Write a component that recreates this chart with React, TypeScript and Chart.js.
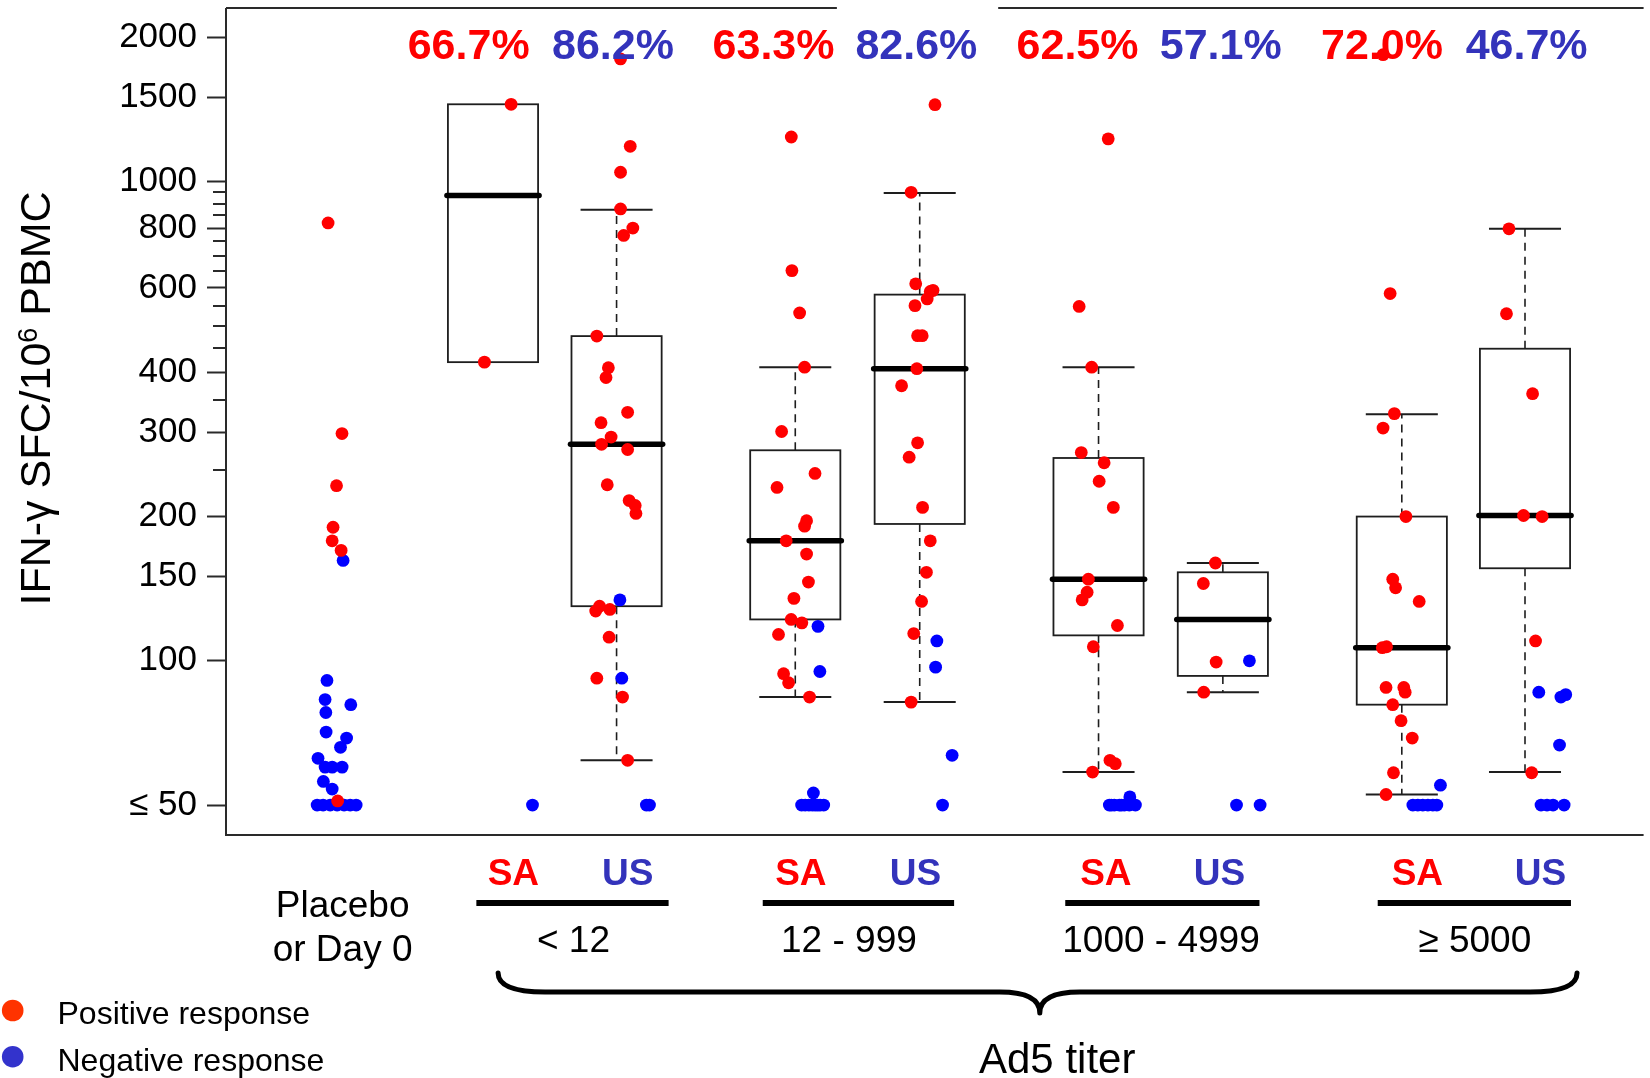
import React, { useEffect, useRef } from "react";
import { Chart, registerables } from "chart.js";

Chart.register(...registerables);

const FONT = '"Liberation Sans", Arial, Helvetica, sans-serif';

// ---------------- data ----------------
const groups = [
  "Placebo or Day 0",
  "SA < 12", "US < 12",
  "SA 12 - 999", "US 12 - 999",
  "SA 1000 - 4999", "US 1000 - 4999",
  "SA ≥ 5000", "US ≥ 5000",
];
const placeboLabelLines = ["Placebo", "or Day 0"];
const cohortLabels = ["SA", "US"];
const titerLabels = ["< 12", "12 - 999", "1000 - 4999", "≥ 5000"];
const titerTitle = "Ad5 titer";
const percentLabels = ["66.7%", "86.2%", "63.3%", "82.6%", "62.5%", "57.1%", "72.0%", "46.7%"];
const yMajorTicks = [50, 100, 150, 200, 300, 400, 600, 800, 1000, 1500, 2000];
const yMinorTicks = [250, 350, 450, 500, 550, 650, 700, 750, 850, 900, 950];

// positive (red) / negative (blue) responses per group
const placeboPos = [820, 298, 232, 190, 178, 170, 51];
const placeboNeg = [162, 91, 83, 81, 78, 71, 69, 66, 62.6, 60, 60, 60, 56, 54, 50, 50, 50, 50, 50, 50, 50];
const saLt12Pos = [1450, 420];
const saLt12Neg = [50];
const usLt12Pos = [1803, 1185, 1046, 877, 800, 772, 476, 409, 390, 330, 314, 293, 283, 276, 233, 216, 211, 203, 130, 128, 127, 112, 92, 84, 62];
const usLt12Neg = [134, 92, 50, 50];
const sa12Pos = [1239, 652, 532, 410, 301, 246, 230, 196, 191, 178, 167, 146, 135, 122, 120, 113.5, 94, 90, 84];
const sa12Neg = [118, 95, 53, 50, 50, 50, 50, 50, 50, 50, 50];
const us12Pos = [1447, 950, 612, 593, 590, 569, 551, 477, 477, 407, 375, 285, 266, 209, 178, 153, 133, 114, 82];
const us12Neg = [110, 97, 63.5, 50];
const sa1000Pos = [1228, 549, 410, 272, 259, 237, 209, 148, 139, 134, 118.5, 107, 62, 61, 58.6];
const sa1000Neg = [52, 50, 50, 50, 50, 50, 50, 50, 50];
const us1000Pos = [160, 145, 99.4, 86];
const us1000Neg = [100, 50, 50];
const sa5000Pos = [1840, 584, 328, 306, 200, 148, 142, 133, 107, 106.5, 88, 88, 86, 81, 75, 69, 58.4, 52.6];
const sa5000Neg = [55, 50, 50, 50, 50, 50, 50];
const us5000Pos = [797, 530, 361, 201, 200, 110, 58.4];
const us5000Neg = [86, 85, 84, 66.7, 50, 50, 50, 50];

// box statistics (groups 2..9, positive responders)
const boxLow = [420, 62, 84, 82, 58.6, 86, 52.6, 58.6];
const boxQ1 = [420, 130, 122, 193, 113, 93, 81, 156];
const boxMedian = [935, 283, 178, 407, 148, 122, 106.5, 201];
const boxQ3 = [1450, 476, 275, 581, 265, 153, 200, 448];
const boxHigh = [1450, 874, 410, 947, 410, 160, 327, 797];

// ---------------- layout (x-axis units) ----------------
const X_MIN = -0.895;
const X_MAX = 10.52;
const groupX = [0, 1.255, 2.25, 3.689, 4.691, 6.131, 7.132, 8.573, 9.565];
const percentX = [1.059, 2.221, 3.514, 4.664, 5.962, 7.115, 8.414, 9.578];
const saLabelX = [1.419, 3.734, 6.19, 8.698];
const usLabelX = [2.339, 4.656, 7.105, 9.69];
const underlineX = [[1.121, 2.669], [3.427, 4.968], [5.863, 7.427], [8.379, 9.935]];
const titerX = [1.903, 4.121, 6.634, 9.161];
const placeboLabelX = 0.044;
const braceX = [1.296, 5.658, 9.984];
const titerTitleX = 5.798;
const topGapX = [4.024, 5.323];
const BOX_HALF = 0.363;
const CAP_HALF = 0.29;

// horizontal jitter of the dots (x-axis units)
const placeboPosJit = [-0.073, 0.039, -0.005, -0.033, -0.04, 0.032, 0.004];
const placeboNegJit = [0.048, -0.082, -0.097, 0.11, -0.091, -0.089, 0.076, 0.027, -0.154, -0.097, -0.04, 0.04, -0.111, -0.04, -0.161, -0.113, -0.056, 0, 0.056, 0.105, 0.153];
const saLt12PosJit = [0.146, -0.069];
const saLt12NegJit = [0.318];
const usLt12PosJit = [0.032, 0.11, 0.032, 0.032, 0.131, 0.057, -0.159, -0.066, -0.085, 0.089, -0.125, -0.044, -0.121, 0.089, -0.075, 0.101, 0.15, 0.156, -0.137, -0.054, -0.168, -0.06, -0.159, 0.048, 0.089];
const usLt12NegJit = [0.027, 0.042, 0.265, 0.24];
const sa12PosJit = [-0.032, -0.027, 0.035, 0.075, -0.11, 0.159, -0.147, 0.091, 0.075, -0.073, 0.091, 0.106, -0.011, -0.033, 0.053, -0.135, -0.094, -0.054, 0.115];
const sa12NegJit = [0.183, 0.198, 0.146, 0.051, 0.137, 0.229, 0.08, 0.18, 0.11, 0.16, 0.2];
const us12PosJit = [0.123, -0.069, -0.032, 0.107, 0.085, 0.06, -0.038, -0.017, 0.02, -0.023, -0.146, -0.017, -0.085, 0.023, 0.085, 0.054, 0.015, -0.048, -0.069];
const us12NegJit = [0.138, 0.128, 0.261, 0.184];
const sa1000PosJit = [0.078, -0.156, -0.055, -0.139, 0.045, 0.005, 0.119, -0.082, -0.092, -0.132, 0.152, -0.042, 0.092, 0.135, -0.048];
const sa1000NegJit = [0.252, 0.087, 0.127, 0.168, 0.208, 0.248, 0.297, 0.103, 0.184];
const us1000PosJit = [-0.06, -0.157, -0.054, -0.154];
const us1000NegJit = [0.214, 0.11, 0.3];
const sa5000PosJit = [-0.151, -0.094, -0.06, -0.151, 0.033, -0.073, -0.05, 0.14, -0.123, -0.157, -0.127, 0.016, 0.027, -0.073, -0.006, 0.084, -0.067, -0.127];
const sa5000NegJit = [0.311, 0.089, 0.129, 0.169, 0.21, 0.25, 0.282];
const us5000PosJit = [-0.129, -0.149, 0.061, -0.012, 0.138, 0.085, 0.054];
const us5000NegJit = [0.111, 0.328, 0.289, 0.278, 0.129, 0.226, 0.315, 0.177];

const posByGroup = [placeboPos, saLt12Pos, usLt12Pos, sa12Pos, us12Pos, sa1000Pos, us1000Pos, sa5000Pos, us5000Pos];
const negByGroup = [placeboNeg, saLt12Neg, usLt12Neg, sa12Neg, us12Neg, sa1000Neg, us1000Neg, sa5000Neg, us5000Neg];
const posJitByGroup = [placeboPosJit, saLt12PosJit, usLt12PosJit, sa12PosJit, us12PosJit, sa1000PosJit, us1000PosJit, sa5000PosJit, us5000PosJit];
const negJitByGroup = [placeboNegJit, saLt12NegJit, usLt12NegJit, sa12NegJit, us12NegJit, sa1000NegJit, us1000NegJit, sa5000NegJit, us5000NegJit];

// ---------------- styles ----------------
const RED = "#ff0000";
const BLUE = "#0000ff";
const TEXT_BLUE = "#3333bb";
const LEGEND_RED = "#ff3300";
const LEGEND_BLUE = "#3333cc";
const LINE = "#1e1e1e";

function buildPoints(values: number[][], jitters: number[][]) {
  const out: { x: number; y: number }[] = [];
  groups.forEach((_, gi) => {
    values[gi].forEach((v, k) => out.push({ x: groupX[gi] + (jitters[gi][k] || 0), y: v }));
  });
  return out;
}

const boxPlugin = {
  id: "boxes",
  beforeDatasetsDraw(chart: any) {
    const { ctx } = chart;
    const xs = chart.scales.x;
    const ys = chart.scales.y;
    ctx.save();
    ctx.strokeStyle = LINE;
    for (let i = 0; i < boxMedian.length; i++) {
      const u = groupX[i + 1];
      const cx = xs.getPixelForValue(u);
      const hw = xs.getPixelForValue(u + BOX_HALF) - cx;
      const cw = xs.getPixelForValue(u + CAP_HALF) - cx;
      const yLo = ys.getPixelForValue(boxLow[i]);
      const yQ1 = ys.getPixelForValue(boxQ1[i]);
      const yMed = ys.getPixelForValue(boxMedian[i]);
      const yQ3 = ys.getPixelForValue(boxQ3[i]);
      const yHi = ys.getPixelForValue(boxHigh[i]);
      // whiskers
      ctx.lineWidth = 1.6;
      ctx.setLineDash([8, 6]);
      ctx.beginPath();
      if (boxHigh[i] > boxQ3[i]) { ctx.moveTo(cx, yQ3); ctx.lineTo(cx, yHi); }
      if (boxLow[i] < boxQ1[i]) { ctx.moveTo(cx, yQ1); ctx.lineTo(cx, yLo); }
      ctx.stroke();
      ctx.setLineDash([]);
      ctx.lineWidth = 2;
      ctx.beginPath();
      if (boxHigh[i] > boxQ3[i]) { ctx.moveTo(cx - cw, yHi); ctx.lineTo(cx + cw, yHi); }
      if (boxLow[i] < boxQ1[i]) { ctx.moveTo(cx - cw, yLo); ctx.lineTo(cx + cw, yLo); }
      ctx.stroke();
      // box
      ctx.lineWidth = 1.8;
      ctx.strokeRect(cx - hw, yQ3, 2 * hw, yQ1 - yQ3);
      // median
      ctx.lineWidth = 5.5;
      ctx.lineCap = "round";
      ctx.strokeStyle = "#000";
      ctx.beginPath();
      ctx.moveTo(cx - hw - 1, yMed);
      ctx.lineTo(cx + hw + 1, yMed);
      ctx.stroke();
      ctx.lineCap = "butt";
      ctx.strokeStyle = LINE;
    }
    ctx.restore();
  },
};

const decoPlugin = {
  id: "deco",
  afterDraw(chart: any) {
    const { ctx, chartArea: ca } = chart;
    const xs = chart.scales.x;
    const ys = chart.scales.y;
    const px = (u: number) => xs.getPixelForValue(u);
    ctx.save();

    // frame (left, bottom, top with gap)
    ctx.strokeStyle = "#2a2a2a";
    ctx.lineWidth = 2;
    ctx.beginPath();
    ctx.moveTo(ca.left, ca.top);
    ctx.lineTo(ca.left, ca.bottom);
    ctx.lineTo(ca.right, ca.bottom);
    ctx.moveTo(ca.left, ca.top);
    ctx.lineTo(px(topGapX[0]), ca.top);
    ctx.moveTo(px(topGapX[1]), ca.top);
    ctx.lineTo(ca.right, ca.top);
    ctx.stroke();

    // minor y ticks
    ctx.beginPath();
    yMinorTicks.forEach((v) => {
      const yy = Math.round(ys.getPixelForValue(v));
      ctx.moveTo(ca.left - 13, yy);
      ctx.lineTo(ca.left, yy);
    });
    ctx.stroke();

    // y title with superscript
    ctx.save();
    ctx.translate(50, 398.5);
    ctx.rotate(-Math.PI / 2);
    ctx.fillStyle = "#000";
    ctx.textBaseline = "alphabetic";
    ctx.textAlign = "left";
    const parts: [string, string, number][] = [
      ["IFN-γ SFC/10", `43px ${FONT}`, 0],
      ["6", `27px ${FONT}`, -13],
      [" PBMC", `43px ${FONT}`, 0],
    ];
    let total = 0;
    parts.forEach(([t, f]) => { ctx.font = f; total += ctx.measureText(t).width; });
    let cur = -total / 2;
    parts.forEach(([t, f, dy]) => {
      ctx.font = f;
      ctx.fillText(t, cur, dy);
      cur += ctx.measureText(t).width;
    });
    ctx.restore();

    // percent labels
    ctx.font = `bold 43px ${FONT}`;
    ctx.textAlign = "center";
    ctx.textBaseline = "alphabetic";
    percentLabels.forEach((t, i) => {
      ctx.fillStyle = i % 2 === 0 ? RED : TEXT_BLUE;
      ctx.fillText(t, px(percentX[i]), ca.top + 51);
    });

    const b = ca.bottom;
    // SA / US labels
    ctx.font = `bold 37px ${FONT}`;
    saLabelX.forEach((u) => { ctx.fillStyle = RED; ctx.fillText(cohortLabels[0], px(u), b + 50); });
    usLabelX.forEach((u) => { ctx.fillStyle = TEXT_BLUE; ctx.fillText(cohortLabels[1], px(u), b + 50); });

    // underlines
    ctx.strokeStyle = "#000";
    ctx.lineWidth = 6;
    ctx.beginPath();
    underlineX.forEach(([a, c]) => { ctx.moveTo(px(a), b + 68); ctx.lineTo(px(c), b + 68); });
    ctx.stroke();

    // titer labels
    ctx.fillStyle = "#000";
    ctx.font = `37px ${FONT}`;
    titerLabels.forEach((t, i) => ctx.fillText(t, px(titerX[i]), b + 117));
    ctx.fillText(placeboLabelLines[0], px(placeboLabelX), b + 82);
    ctx.fillText(placeboLabelLines[1], px(placeboLabelX), b + 126);

    // brace
    const bl = px(braceX[0]);
    const bm = px(braceX[1]);
    const br = px(braceX[2]);
    const yTop = b + 138;
    const yH = b + 157;
    const yTip = b + 178;
    ctx.lineWidth = 5;
    ctx.lineCap = "round";
    ctx.lineJoin = "round";
    ctx.beginPath();
    ctx.moveTo(bl, yTop);
    ctx.quadraticCurveTo(bl, yH, bl + 47, yH);
    ctx.lineTo(bm - 40, yH);
    ctx.quadraticCurveTo(bm, yH, bm, yTip);
    ctx.quadraticCurveTo(bm, yH, bm + 40, yH);
    ctx.lineTo(br - 47, yH);
    ctx.quadraticCurveTo(br, yH, br, yTop);
    ctx.stroke();

    ctx.font = `42px ${FONT}`;
    ctx.fillText(titerTitle, px(titerTitleX), b + 238);

    // legend
    const ds = chart.data.datasets;
    ctx.textAlign = "left";
    ctx.font = `32px ${FONT}`;
    [[LEGEND_RED, ds[0].label, 1010.5, 1024], [LEGEND_BLUE, ds[1].label, 1056.7, 1071]].forEach(([c, t, cy, by]: any) => {
      ctx.fillStyle = c;
      ctx.beginPath();
      ctx.arc(12.7, cy, 10.8, 0, Math.PI * 2);
      ctx.fill();
      ctx.fillStyle = "#000";
      ctx.fillText(t, 57.5, by);
    });

    ctx.restore();
  },
};

export default function App() {
  const ref = useRef<HTMLCanvasElement | null>(null);

  useEffect(() => {
    document.body.style.margin = "0";
    const canvas = ref.current;
    if (!canvas) return;
    const allTicks = [...yMajorTicks, ...yMinorTicks].sort((a, b) => a - b);
    const chart = new Chart(canvas, {
      type: "scatter",
      data: {
        datasets: [
          {
            label: "Positive response",
            data: buildPoints(posByGroup, posJitByGroup),
            backgroundColor: RED,
            borderWidth: 0,
            pointRadius: 6.4,
            pointHoverRadius: 6.4,
          },
          {
            label: "Negative response",
            data: buildPoints(negByGroup, negJitByGroup),
            backgroundColor: BLUE,
            borderWidth: 0,
            pointRadius: 6.4,
            pointHoverRadius: 6.4,
          },
        ],
      },
      options: {
        animation: false,
        responsive: false,
        events: [],
        layout: { padding: { left: 0, top: 8, right: 0, bottom: 243 } },
        plugins: { legend: { display: false }, tooltip: { enabled: false } },
        scales: {
          x: { type: "linear", min: X_MIN, max: X_MAX, display: false },
          y: {
            type: "logarithmic",
            min: 43.3,
            max: 2303,
            afterFit: (s: any) => {
              s.width = 226;
              s.paddingTop = 0;
              s.paddingBottom = 0;
            },
            afterBuildTicks: (s: any) => {
              s.ticks = allTicks.map((v) => ({ value: v }));
            },
            ticks: {
              autoSkip: false,
              padding: 10,
              color: "#000",
              font: { family: FONT, size: 35 },
              callback: (v: any) => {
                const n = Number(v);
                if (!yMajorTicks.includes(n)) return "";
                return n === 50 ? "≤ 50" : String(n);
              },
            },
            grid: {
              drawOnChartArea: false,
              drawTicks: true,
              tickLength: 19,
              tickWidth: 2,
              tickColor: (c: any) => (c.tick && yMajorTicks.includes(c.tick.value) ? "#2a2a2a" : "rgba(0,0,0,0)"),
            },
            border: { display: false },
          },
        },
      } as any,
      plugins: [boxPlugin, decoPlugin],
    });
    return () => chart.destroy();
  }, []);

  return (
    <div style={{ width: 1650, height: 1078, background: "#fff" }}>
      <canvas ref={ref} width={1650} height={1078} style={{ display: "block" }} />
    </div>
  );
}
